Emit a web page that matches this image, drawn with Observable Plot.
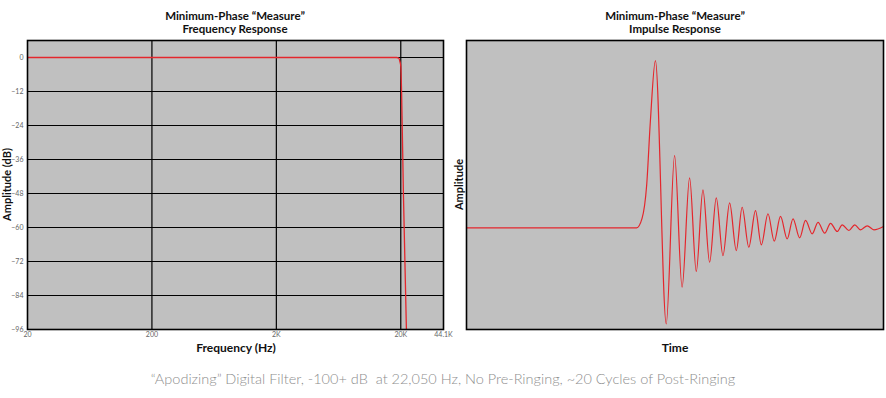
<!DOCTYPE html>
<html>
<head>
<meta charset="utf-8">
<script src="https://cdn.jsdelivr.net/npm/d3@7"></script>
<script src="https://cdn.jsdelivr.net/npm/@observablehq/plot@0.6"></script>
<style>
  html, body { margin: 0; padding: 0; background: #fff; }
  #wrap { position: relative; width: 886px; height: 398px; overflow: hidden; font-family: Lato, "Open Sans", sans-serif; }
  .layer { position: absolute; top: 0; }
  .title { position: absolute; text-align: center; font-weight: 700; font-size: 11.5px; line-height: 13px; color: #111; }
  .xlab { position: absolute; font-weight: 700; font-size: 12px; color: #111; text-align: center; }
  .ylab { position: absolute; font-weight: 700; font-size: 11px; color: #111; transform-origin: center center; transform: rotate(-90deg); white-space: nowrap; text-align: center; }
  .caption { position: absolute; left: 0; width: 886px; top: 370px; text-align: center; font-size: 14.5px; font-weight: 300; color: #8e8e8e; }
</style>
</head>
<body>
<div id="wrap">
  <div id="left" class="layer" style="left:0"></div>
  <div id="right" class="layer" style="left:455px"></div>
  <div class="title" style="left:135px;width:200px;top:9px">Minimum-Phase “Measure”<br>Frequency Response</div>
  <div class="title" style="left:575px;width:200px;top:9px">Minimum-Phase “Measure”<br>Impulse Response</div>
  <div class="xlab" style="left:136px;width:200px;top:340px">Frequency (Hz)</div>
  <div class="xlab" style="left:575px;width:200px;top:340px">Time</div>
  <div class="ylab" style="left:-44px;width:100px;top:178px">Amplitude (dB)</div>
  <div class="ylab" style="left:408px;width:100px;top:178px">Amplitude</div>
  <div class="caption">“Apodizing” Digital Filter, -100+ dB&nbsp; at 22,050 Hz, No Pre-Ringing, ~20 Cycles of Post-Ringing</div>
</div>
<script>
// ---- Frequency response data ----
const freqHz = [20, 1000, 10000, 18500, 19300, 19700, 20000, 20300, 21000, 22200];
const freqDb = [0, 0, 0, 0, -0.3, -1.5, -3, -12, -48, -96];
const xTickValues = [20, 200, 2000, 20000, 44100];
const xTickLabels = ["20", "200", "2K", "20K", "44.1K"];
const yTickValues = [0, -12, -24, -36, -48, -60, -72, -84, -96];
const xGrid = [200, 2000, 20000];
const yGrid = [0, -12, -24, -36, -48, -60, -72, -84];

// ---- Impulse response data (time in arbitrary units 0..100, amplitude normalised to peak) ----
const impulseT = [0, 40.8, 42.1, 43.2, 44.1, 45.3, 47.9, 49.9, 51.7, 53.5, 55.1, 56.7, 58.3, 59.9, 61.5, 63.1, 64.7, 66.1, 67.7, 69.3, 70.7, 72.3, 73.8, 75.3, 76.9, 78.3, 79.9, 81.3, 82.9, 84.3, 85.9, 87.3, 88.9, 90.1, 91.7, 93.1, 94.5, 96.1, 97.7, 100];
const impulseA = [0, 0, 0.056, 0.253, 0.64, 1.0, -0.574, 0.432, -0.355, 0.299, -0.261, 0.227, -0.206, 0.179, -0.166, 0.149, -0.136, 0.123, -0.116, 0.103, -0.102, 0.084, -0.080, 0.068, -0.066, 0.054, -0.060, 0.044, -0.036, 0.033, -0.032, 0.027, -0.022, 0.018, -0.016, 0.018, -0.012, 0.012, -0.012, 0.008];

const freqData = freqHz.map((f, i) => ({f, db: freqDb[i]}));
const impData = impulseT.map((t, i) => ({t, a: impulseA[i]}));
const xTicks = xTickValues.map((v, i) => ({v, label: xTickLabels[i]}));

const RED = "#e4262c";
const BG = "#c0c0c0";

const left = Plot.plot({
  width: 450, height: 398,
  marginLeft: 27, marginRight: 7, marginTop: 40, marginBottom: 69,
  style: {fontFamily: "Lato, 'Open Sans', sans-serif", fontSize: "7px", color: "#666", background: "transparent", overflow: "visible"},
  x: {type: "log", domain: [20, 44100], axis: null},
  y: {domain: [-96, 6], ticks: yTickValues, tickSize: 0, tickPadding: 4, label: null},
  marks: [
    Plot.frame({fill: BG}),
    Plot.ruleY(yGrid, {stroke: "#000", strokeWidth: 1.2}),
    Plot.ruleX(xGrid, {stroke: "#000", strokeWidth: 1.2}),
    Plot.line(freqData, {x: "f", y: "db", stroke: RED, strokeWidth: 1.3, curve: "monotone-x", clip: true}),
    Plot.frame({stroke: "#000", strokeWidth: 1.6}),
    Plot.text(xTicks, {x: "v", text: "label", frameAnchor: "bottom", dy: 7, fill: "#666", fontSize: 7})
  ]
});
document.getElementById("left").appendChild(left);

const right = Plot.plot({
  width: 431, height: 398,
  marginLeft: 11, marginRight: 3, marginTop: 40, marginBottom: 69,
  style: {fontFamily: "Lato, 'Open Sans', sans-serif", background: "transparent"},
  x: {domain: [0, 100], axis: null},
  y: {domain: [-0.608, 1.12], axis: null},
  marks: [
    Plot.frame({fill: BG}),
    Plot.line(impData, {x: "t", y: "a", stroke: RED, strokeWidth: 1.2, curve: "monotone-x"}),
    Plot.frame({stroke: "#000", strokeWidth: 1.6})
  ]
});
document.getElementById("right").appendChild(right);
</script>
</body>
</html>
